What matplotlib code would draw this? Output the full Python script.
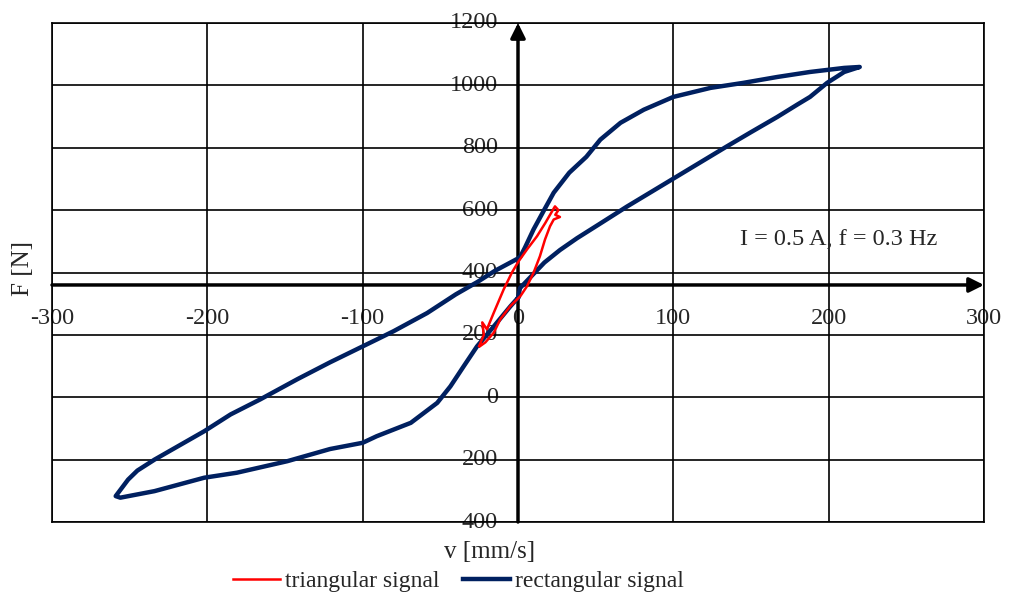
import matplotlib
matplotlib.use("Agg")
import matplotlib.pyplot as plt
from matplotlib.lines import Line2D

plt.rcParams['font.family'] = ['Liberation Serif', 'DejaVu Serif']

# ---- data ----
rect_v = [0, 1.3, 8, 17, 27, 38, 52, 70, 86, 102, 118, 134, 150, 167, 180, 188, 199, 210, 220,
          210, 188, 167, 145, 124, 100, 81, 66, 53, 44, 33, 23, 17, 10, 4.5, 1.5,
          0, -15, -26, -40, -58.5, -80, -91, -121, -142, -166, -185, -202, -234, -245, -251, -259,
          -256, -234, -202, -181, -148.5, -121, -100, -91, -69, -52, -43.5, -35, -26.4, -15.6, -5, 0]
rect_F = [319, 350, 385, 432, 472, 510, 554, 611, 659, 707, 755, 803, 850, 899, 939, 963, 1008, 1043, 1059,
          1056, 1043, 1027, 1008, 992, 963, 922, 880, 826, 771, 720, 656, 602, 538, 480, 451,
          445, 405, 370, 330, 270, 212, 185, 112, 58, -7, -55, -109, -200, -235, -264, -317,
          -322, -301, -258, -242, -205, -166, -146, -125, -82, -18, 35, 99, 163, 227, 291, 319]

tri_v = [-25, -22, -23, -20, -15.6, -9.2, -3.9, 0.4, 5.8, 12.2, 17.6, 21.9, 23.8,
         26, 24, 27, 23, 20.6, 17.4, 14.1, 10, 5.8, 1.5, -5, -11.4, -15.6, -21, -24.4]
tri_F = [164, 200, 240, 218, 271, 346, 400, 436, 474, 516, 559, 596, 612,
         600, 585, 578, 570, 548, 506, 452, 399, 356, 324, 292, 250, 207, 176, 164]

x_ticks = [-300, -200, -100, 0, 100, 200, 300]
x_labels = ['-300', '-200', '-100', '0', '100', '200', '300']
y_ticks = [-400, -200, 0, 200, 400, 600, 800, 1000, 1200]
y_labels = ['400', '200', '0', '200', '400', '600', '800', '1000', '1200']

series_names = ['triangular signal', 'rectangular signal']
colors = ['#ff0000', '#002060']
text_color = '#262626'

fig = plt.figure(figsize=(10.11, 5.96), dpi=100)
ax = fig.add_axes([52/1011, 1-522/596, (984-52)/1011, (522-23)/596])
ax.set_xlim(-300, 300)
ax.set_ylim(-400, 1200)
ax.set_xticks(x_ticks)
ax.set_yticks(y_ticks)
ax.grid(True, color='black', lw=1.2)
ax.tick_params(length=0, labelbottom=False, labelleft=False)
for s in ax.spines.values():
    s.set_color('black')
    s.set_linewidth(1.2)

# axis arrows
ax.annotate('', xy=(300, 360), xytext=(-300, 360),
            arrowprops=dict(arrowstyle='-|>', lw=2.5, color='black', mutation_scale=22,
                            shrinkA=0, shrinkB=0), zorder=2)
ax.annotate('', xy=(0, 1200), xytext=(0, -400),
            arrowprops=dict(arrowstyle='-|>', lw=2.5, color='black', mutation_scale=22,
                            shrinkA=0, shrinkB=0), zorder=2)

fs = 17.5
for v, lab in zip(y_ticks, y_labels):
    ax.text(-13, v, lab, ha='right', va='center', fontsize=fs, color=text_color, zorder=1)
for v, lab in zip(x_ticks, x_labels):
    ax.text(v, 251, lab, ha='center', va='center', fontsize=fs, color=text_color, zorder=1)

ax.plot(rect_v, rect_F, color=colors[1], lw=3.2, zorder=4, solid_joinstyle='round')
ax.plot(tri_v, tri_F, color=colors[0], lw=1.8, zorder=5)

ax.text(143, 505, 'I = 0.5 A, f = 0.3 Hz', ha='left', va='center', fontsize=fs, color=text_color)

fig.text(23/1011, 1-268/596, 'F [N]', rotation=90, ha='center', va='center', fontsize=18, color=text_color)
fig.text(490/1011, 1-552/596, 'v [mm/s]', ha='center', va='center', fontsize=18, color=text_color)

handles = [Line2D([], [], color=colors[0], lw=1.8), Line2D([], [], color=colors[1], lw=3.2)]
fig.legend(handles, series_names, loc='center', bbox_to_anchor=(458/1011, 1-581/596), ncol=2,
           frameon=False, fontsize=17, handlelength=2.0, handletextpad=0.2, columnspacing=1.0,
           borderaxespad=0, borderpad=0, labelcolor=text_color)

fig.savefig('out.png', dpi=100)
